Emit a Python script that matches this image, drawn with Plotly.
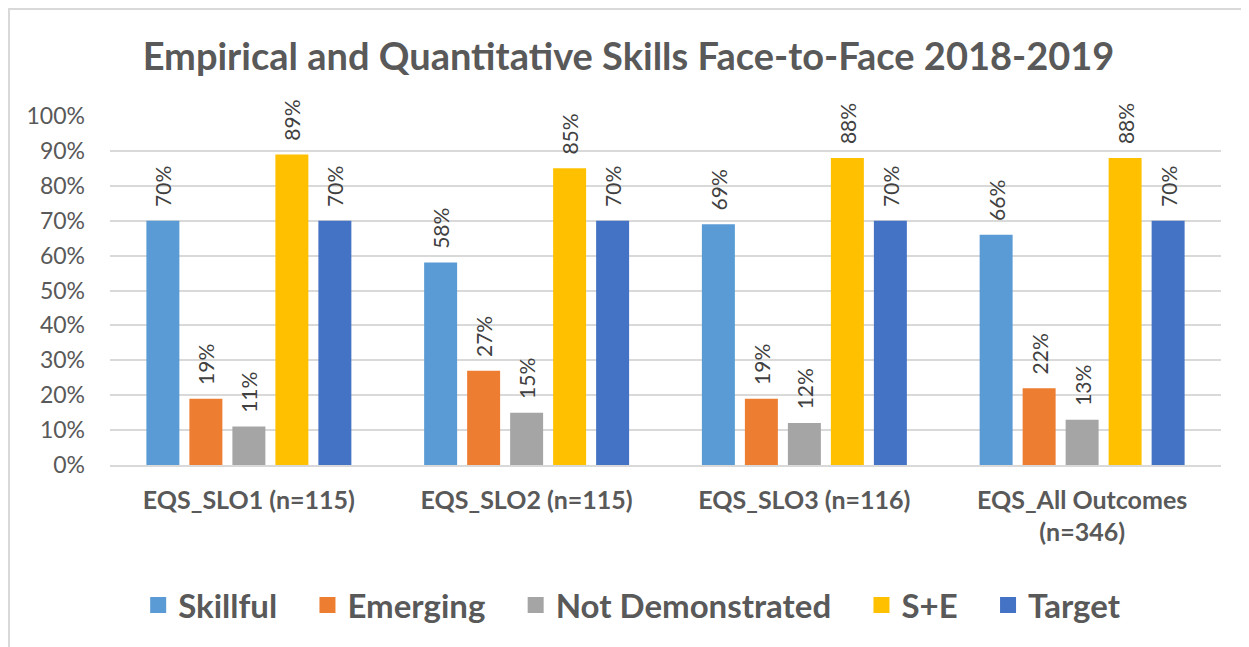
import plotly.graph_objects as go

categories = ["EQS_SLO1 (n=115)", "EQS_SLO2 (n=115)", "EQS_SLO3 (n=116)", "EQS_All Outcomes<br>(n=346)"]
skillful = [0.70, 0.58, 0.69, 0.66]
emerging = [0.19, 0.27, 0.19, 0.22]
not_demonstrated = [0.11, 0.15, 0.12, 0.13]
s_plus_e = [0.89, 0.85, 0.88, 0.88]
target = [0.70, 0.70, 0.70, 0.70]

series = [
    ("Skillful", skillful, "#5B9BD5"),
    ("Emerging", emerging, "#ED7D31"),
    ("Not Demonstrated", not_demonstrated, "#A5A5A5"),
    ("S+E", s_plus_e, "#FFC000"),
    ("Target", target, "#4472C4"),
]

FONT = "Lato, 'Open Sans', sans-serif"
GRAY = "#595959"

# page body adds an 8px margin, so the figure is sized to the remaining area
W, H = 1241, 639
L, T, R, B = 102, 108, 28, 182
plot_h = H - T - B

fig = go.Figure()
for i, (name, vals, color) in enumerate(series):
    fig.add_trace(
        go.Bar(
            x=categories,
            y=vals,
            name=name,
            showlegend=False,
            marker=dict(color=color, line=dict(width=0)),
            text=[f"\u00a0\u00a0{round(v * 100)}%" for v in vals],
            textposition="outside",
            textangle=-90,
            constraintext="none",
            textfont=dict(family=FONT, size=21, color="#404040"),
            cliponaxis=False,
        )
    )
    # legend entry with a bigger square swatch
    pad = "" if i == len(series) - 1 else "\u00a0\u00a0\u00a0"
    fig.add_trace(
        go.Scatter(
            x=[None],
            y=[None],
            mode="markers",
            name=f"<b>{name}</b>{pad}",
            marker=dict(symbol="square", size=16, color=color, line=dict(width=0)),
            hoverinfo="skip",
        )
    )

fig.update_layout(
    width=W,
    height=H,
    margin=dict(l=L, r=R, t=T, b=B),
    plot_bgcolor="white",
    paper_bgcolor="white",
    barmode="group",
    bargap=0.226,
    bargroupgap=0.233,
    title=dict(
        text="<b>Empirical and Quantitative Skills Face-to-Face 2018-2019</b>",
        x=0.5,
        xanchor="center",
        y=1 - 49 / H,
        yanchor="middle",
        font=dict(family=FONT, size=38, color=GRAY),
    ),
    legend=dict(
        orientation="h",
        x=0.47,
        xanchor="center",
        y=-(597 - T - plot_h) / plot_h,
        yanchor="middle",
        font=dict(family=FONT, size=33, color=GRAY),
        itemwidth=30,
        itemsizing="trace",
        traceorder="normal",
    ),
    showlegend=True,
)

fig.update_yaxes(
    range=[0, 1.0],
    tickvals=[i / 10 for i in range(11)],
    tickformat=".0%",
    showgrid=True,
    gridcolor="#D9D9D9",
    gridwidth=1.5,
    zeroline=False,
    showline=False,
    ticks="",
    ticklabelstandoff=24,
    tickfont=dict(family=FONT, size=23, color=GRAY),
)
fig.update_xaxes(
    showline=True,
    linecolor="#D9D9D9",
    linewidth=1.5,
    ticks="",
    ticklabelstandoff=12,
    tickfont=dict(family=FONT, size=25, color=GRAY),
    tickvals=categories,
    ticktext=[f"<b>{c}</b>" for c in categories],
)

# chart border (only top and left edges fall inside the frame)
fig.add_shape(
    type="rect", xref="paper", yref="paper",
    x0=-(L - 1) / (W - L - R), x1=1.2, y0=-1.0, y1=1 + (T - 1) / plot_h,
    line=dict(color="#D9D9D9", width=2), fillcolor="rgba(0,0,0,0)",
    layer="below",
)

fig.write_html("out.html")
